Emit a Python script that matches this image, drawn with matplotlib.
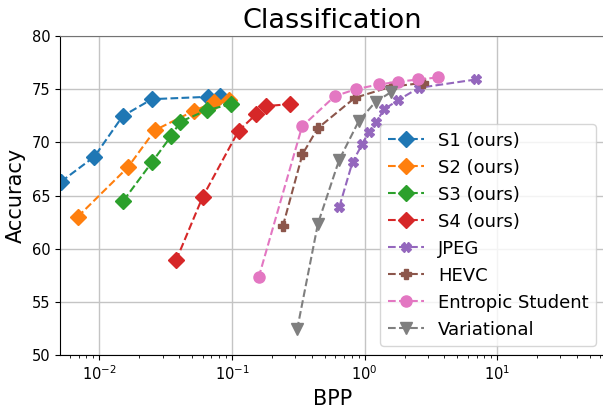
import numpy as np
import matplotlib
matplotlib.use('Agg')
import matplotlib.pyplot as plt

# values
s1_bpp = [0.00514, 0.00917, 0.0150, 0.0249, 0.0659, 0.0806]
s1_acc = [66.3, 68.65, 72.47, 74.06, 74.28, 74.37]

s2_bpp = [0.00687, 0.0164, 0.0263, 0.0513, 0.0727, 0.0942]
s2_acc = [63.0, 67.65, 71.15, 72.94, 73.75, 74.0]

s3_bpp = [0.0152, 0.0251, 0.0348, 0.0407, 0.0648, 0.0988]
s3_acc = [64.52, 68.18, 70.59, 71.93, 73.03, 73.59]

s4_bpp = [0.0379, 0.0600, 0.1122, 0.1526, 0.1816, 0.272]
s4_acc = [58.9, 64.84, 71.09, 72.65, 73.41, 73.59]

jpeg_bpp = [0.646, 0.811, 0.959, 1.076, 1.216, 1.41, 1.79, 2.56, 6.89]
jpeg_acc = [63.96, 68.15, 69.81, 70.99, 71.88, 73.12, 73.97, 75.12, 75.91]

hevc_bpp = [0.242, 0.340, 0.443, 0.843, 1.57, 2.76]
hevc_acc = [62.12, 68.88, 71.32, 74.18, 75.22, 75.59]

es_bpp = [0.159, 0.338, 0.596, 0.861, 1.28, 1.79, 2.54, 3.57]
es_acc = [57.3, 71.5, 74.34, 75.0, 75.44, 75.70, 75.91, 76.1]

var_bpp = [0.310, 0.445, 0.643, 0.904, 1.21, 1.57]
var_acc = [52.4, 62.36, 68.34, 72.0, 73.81, 74.69]

fig = plt.figure(figsize=(6.03, 4.08), dpi=100)
ax = fig.add_axes([60 / 603, 53 / 408, 545 / 603, 319 / 408])

ax.plot(s1_bpp, s1_acc, '--D', color='tab:blue', markersize=8, label='S1 (ours)')
ax.plot(s2_bpp, s2_acc, '--D', color='tab:orange', markersize=8, label='S2 (ours)')
ax.plot(s3_bpp, s3_acc, '--D', color='tab:green', markersize=8, label='S3 (ours)')
ax.plot(s4_bpp, s4_acc, '--D', color='tab:red', markersize=8, label='S4 (ours)')
ax.plot(jpeg_bpp, jpeg_acc, '--X', color='tab:purple', markersize=6.5, label='JPEG')
ax.plot(hevc_bpp, hevc_acc, '--P', color='tab:brown', markersize=6.5, label='HEVC')
ax.plot(es_bpp, es_acc, '--o', color='tab:pink', markersize=8, label='Entropic Student')
ax.plot(var_bpp, var_acc, '--v', color='tab:gray', markersize=8, label='Variational')

ax.set_xscale('log')
ax.set_xlim(0.00505, 65)
ax.set_ylim(50, 80)
ax.grid(True, which='major', color='#c4c4c4', linewidth=1.0)
ax.spines['top'].set_color('0.45')
ax.spines['right'].set_visible(False)
ax.tick_params(labelsize=10.5)

ax.set_title('Classification', fontsize=19.5)
ax.set_xlabel('BPP', fontsize=15)
ax.set_ylabel('Accuracy', fontsize=15)
ax.legend(loc='lower right', fontsize=13)

fig.savefig('out.png', dpi=100)
